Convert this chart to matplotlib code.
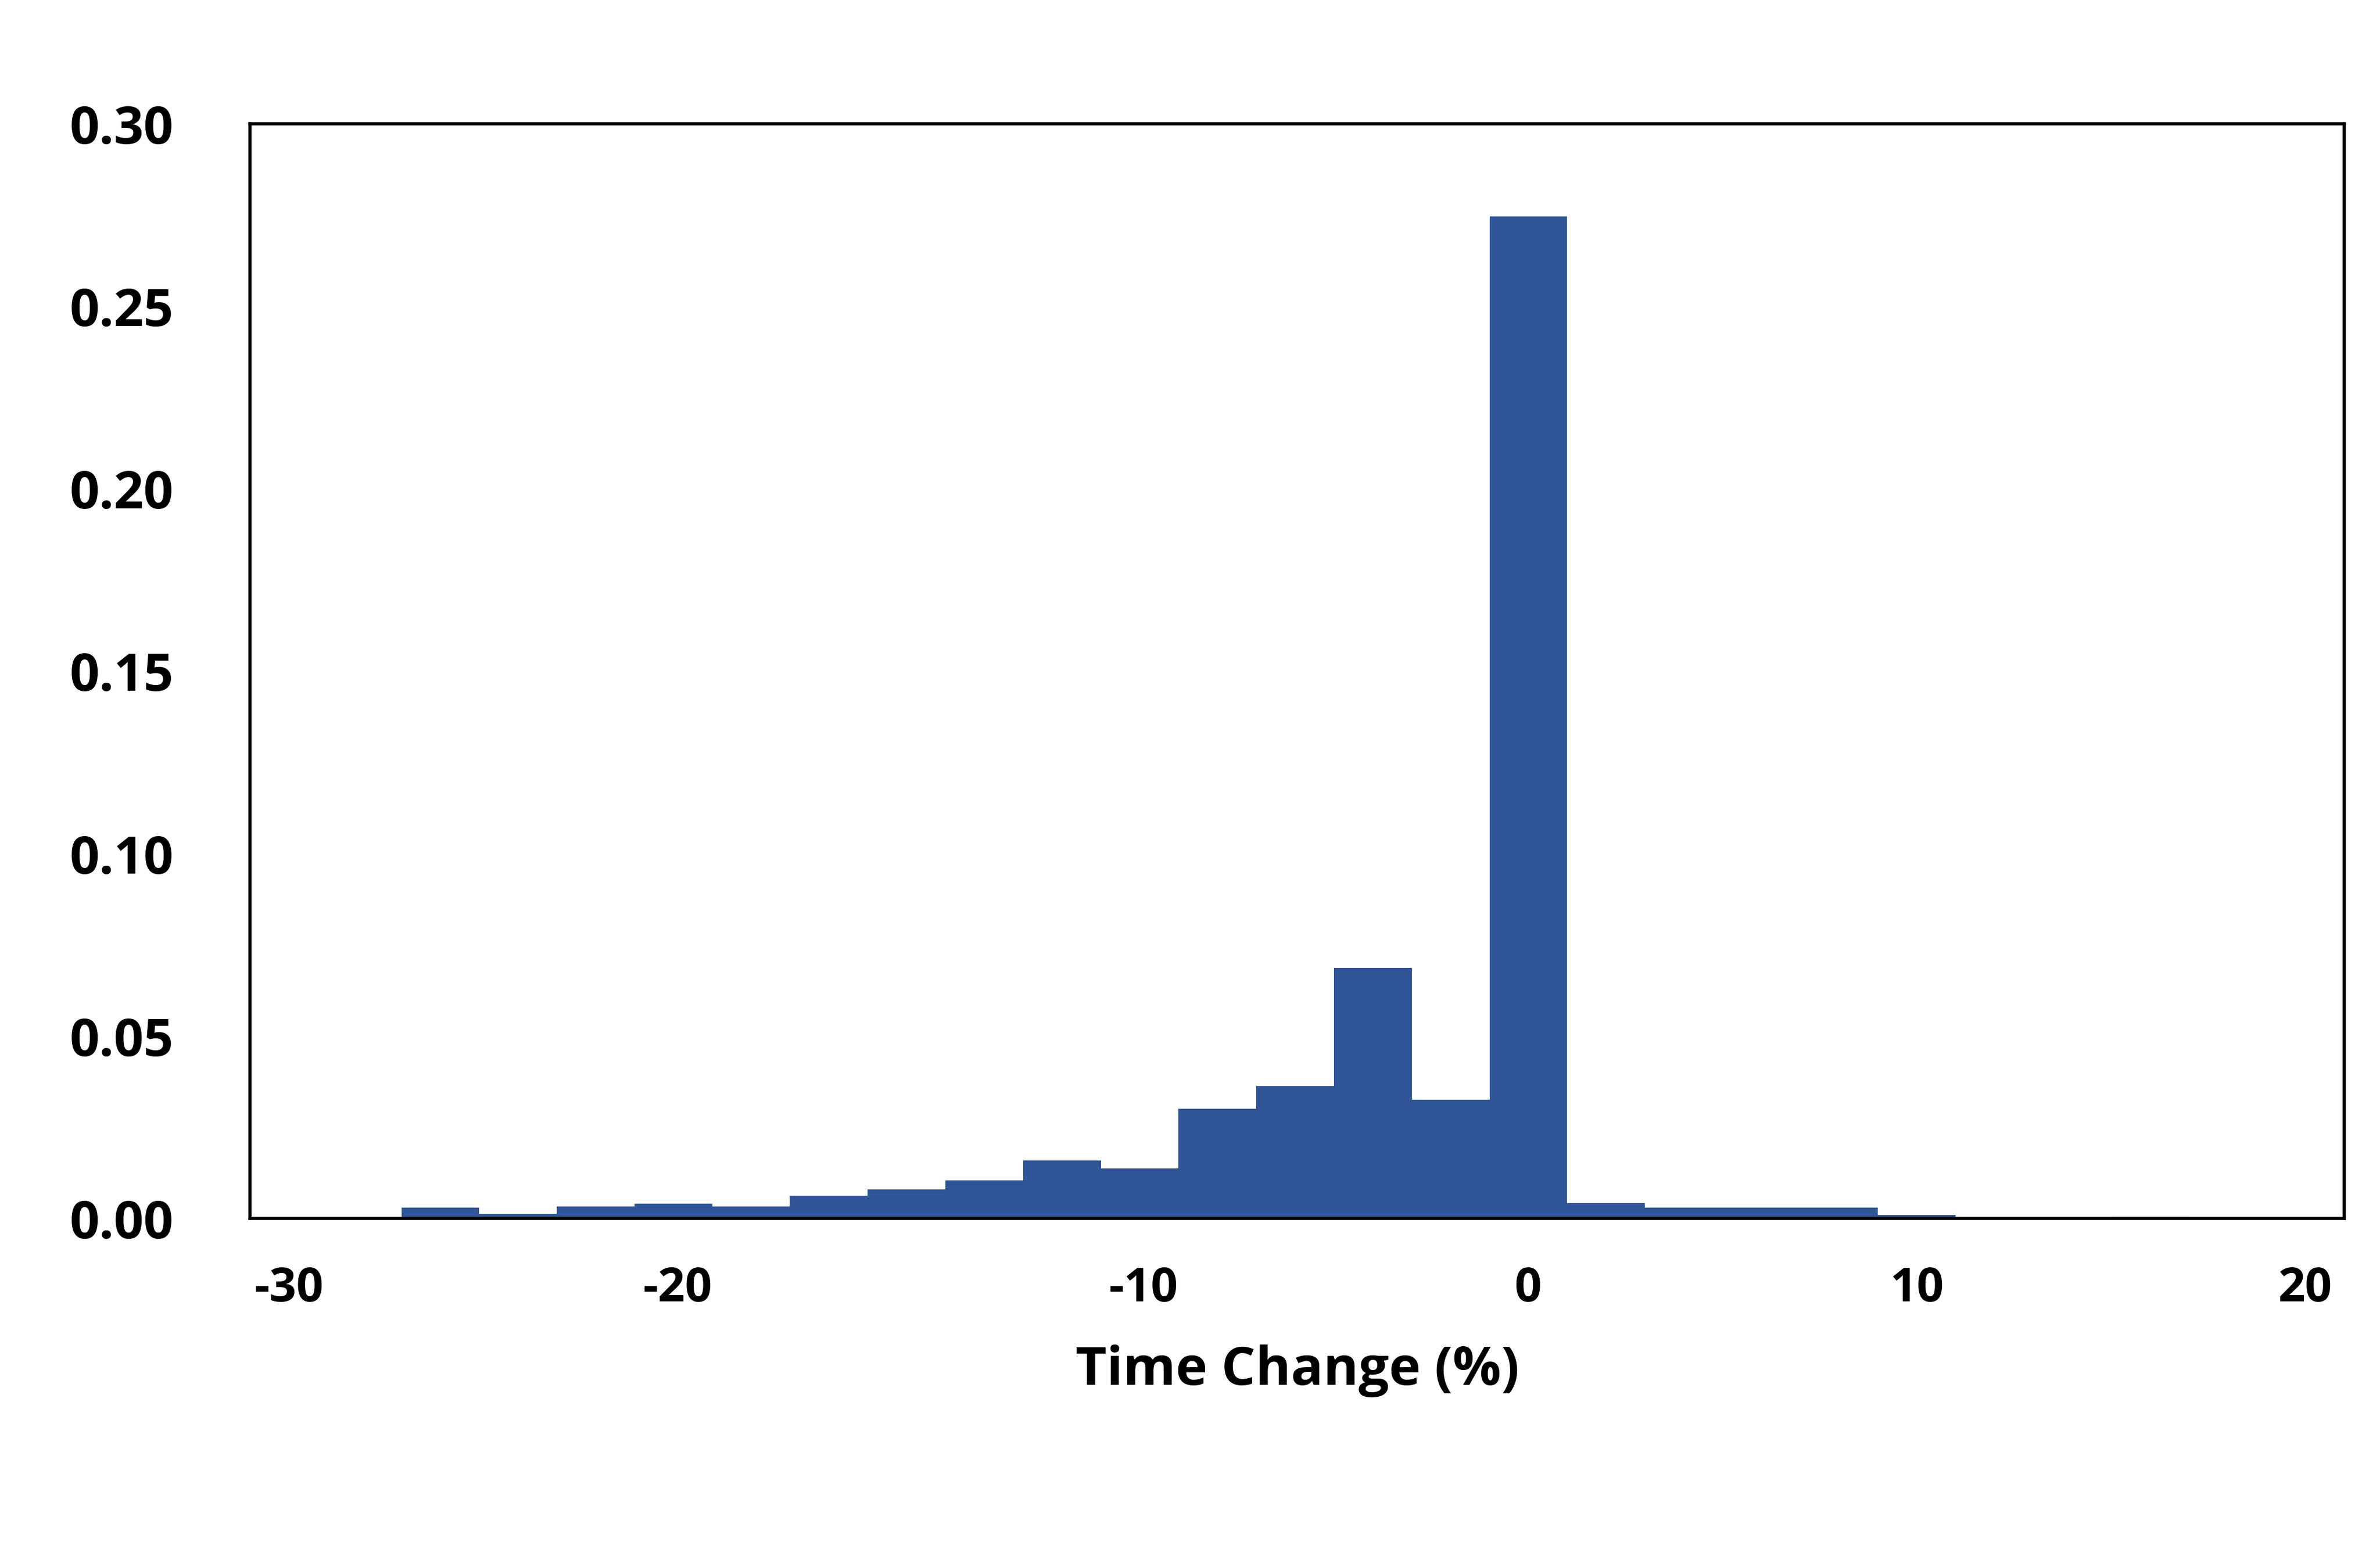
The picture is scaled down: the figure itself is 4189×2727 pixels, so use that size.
import matplotlib
matplotlib.use("Agg")
import matplotlib.pyplot as plt

bin_centers = [-30,-28,-26,-24,-22,-20,-18,-16,-14,-12,-10,-8,-6,-4,-2,0,2,4,6,8,10,12,14,16,18]
freq = [0.0003,0.003,0.0012,0.0033,0.004,0.0033,0.0062,0.0079,0.0104,0.0158,0.0137,0.030,0.0362,0.0687,0.0325,
        0.2747,0.0042,0.003,0.003,0.003,0.0009,0.0003,0.0003,0.0005,0.0003]
xtick_labels = ["-30","-20","-10","0","10","20"]
ytick_labels = ["0.00","0.05","0.10","0.15","0.20","0.25","0.30"]

plt.rcParams['font.family'] = ['Open Sans', 'DejaVu Sans']
fig = plt.figure(figsize=(41.89, 27.27), dpi=100)
ax = fig.add_axes([0.105, 0.2135, 0.88, 0.7065])
ax.bar(bin_centers, freq, width=2, color="#2F5597", align="center")
ax.set_xlim(-32.9, 21.0)
ax.set_ylim(0, 0.30)
ax.set_xticks([-31.9, -21.9, -9.9, 0, 10, 20])
ax.set_xticklabels(xtick_labels, fontsize=60, fontweight="bold")
ax.set_yticks([0, 0.05, 0.10, 0.15, 0.20, 0.25, 0.30])
ax.set_yticklabels(ytick_labels, fontsize=66, fontweight="bold")
ax.tick_params(length=0)
ax.tick_params(axis='x', pad=60)
ax.tick_params(axis='y', pad=228)
for lab in ax.get_yticklabels():
    lab.set_horizontalalignment('left')
for s in ax.spines.values():
    s.set_linewidth(4)
ax.set_xlabel("Time Change (%)", fontsize=68, fontweight="bold", labelpad=40)
fig.savefig("out.png", dpi=100)
